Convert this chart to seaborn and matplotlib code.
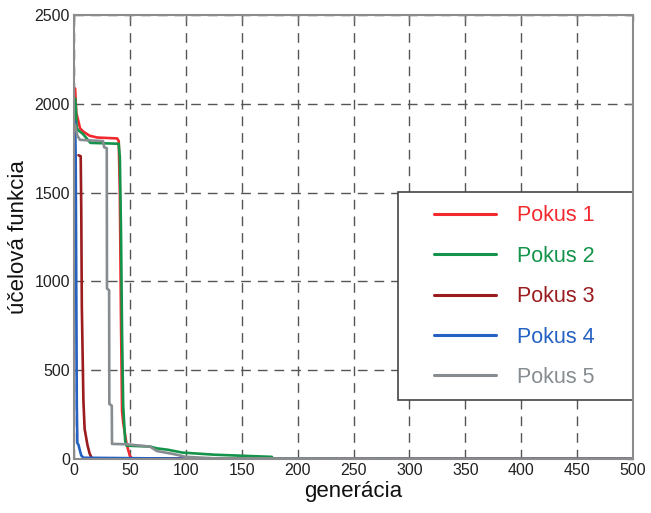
import pandas as pd
import seaborn as sns
import matplotlib.pyplot as plt
from matplotlib.patches import Rectangle

# Values
series_names = ['Pokus 1', 'Pokus 2', 'Pokus 3', 'Pokus 4', 'Pokus 5']
colors = ['#f22a2f', '#14934a', '#9a1c1f', '#2461c2', '#868c90']

gen_1 = [0, 1, 2, 4, 5.4, 8.4, 14, 21, 38.6, 40, 41, 42, 43, 44, 47, 50, 52, 60, 500]
val_1 = [2090, 2085, 1950, 1900, 1862, 1843, 1820, 1810, 1805, 1790, 1500, 800, 270, 205, 85, 17, 2, 1, 0]

gen_2 = [1, 1.5, 2.4, 4, 8, 14.7, 40, 41, 42, 43, 44, 45.8, 47, 68, 74, 84, 97, 126, 177, 178, 500]
val_2 = [2030, 2000, 1865, 1850, 1830, 1780, 1775, 1700, 1300, 700, 300, 100, 75, 70, 60, 52, 36, 24, 12, 0, 0]

gen_3 = [4, 6, 6.5, 7, 8.4, 9.5, 12, 14, 16, 20, 500]
val_3 = [1710, 1705, 1400, 860, 330, 170, 80, 30, 5, 2, 0]

gen_4 = [0, 1, 1.5, 2, 2.5, 3, 4, 5.4, 6.5, 8.4, 100, 500]
val_4 = [1880, 1900, 1700, 1000, 300, 90, 80, 45, 20, 7, 2, 0]

gen_5 = [0, 1, 3, 5.4, 26, 27, 29.3, 29.5, 31.4, 31.6, 33.8, 34, 47, 68, 74, 89, 100, 126, 500]
val_5 = [1890, 1880, 1820, 1797, 1790, 1755, 1750, 960, 950, 310, 300, 85, 83, 70, 45, 28, 12, 4, 0]

frames = []
for name, g, v in zip(series_names,
                      [gen_1, gen_2, gen_3, gen_4, gen_5],
                      [val_1, val_2, val_3, val_4, val_5]):
    frames.append(pd.DataFrame({'generacia': g, 'hodnota': v, 'pokus': name}))
data = pd.concat(frames, ignore_index=True)

sns.set_style('white')
plt.rcParams['font.family'] = ['Liberation Sans', 'DejaVu Sans']

fig = plt.figure(figsize=(6.51, 5.13), dpi=100)
ax = fig.add_axes([74 / 651, 54 / 513, 559 / 651, 444 / 513])

sns.lineplot(data=data, x='generacia', y='hodnota', hue='pokus',
             palette=dict(zip(series_names, colors)), estimator=None,
             sort=False, linewidth=1.9, ax=ax)

ax.set_xlim(0, 500)
ax.set_ylim(0, 2500)
ax.set_xticks(range(0, 501, 50))
ax.set_yticks(range(0, 2501, 500))
ax.grid(True, color='#555555', linestyle=(0, (7, 5)), linewidth=1)
ax.set_axisbelow(True)
ax.tick_params(direction='in', top=True, right=True, length=4, width=1,
               color='#777777', labelsize=11.5, labelcolor='#222222', pad=3)
for s in ax.spines.values():
    s.set_color('#8c8c8c')
    s.set_linewidth(1.5)
    s.set_zorder(6)

ax.set_xlabel('generácia', fontsize=16, color='#111111', labelpad=2)
ax.set_ylabel('účelová funkcia', fontsize=16, color='#111111', labelpad=4)

# legend box
box = Rectangle((0.5796, 0.133), 0.4204, 0.468, transform=ax.transAxes,
                facecolor='white', edgecolor='#444444', linewidth=1.2,
                zorder=3, clip_on=False)
ax.add_patch(box)

sns.move_legend(ax, 'upper left', bbox_to_anchor=(0.644, 0.571), title=None,
                frameon=False, fontsize=15.5, handlelength=2.9,
                handletextpad=0.95, labelspacing=0.9, borderpad=0,
                borderaxespad=0, labelcolor='linecolor')
for line in ax.get_legend().get_lines():
    line.set_linewidth(2.2)

fig.savefig('out.png', dpi=100)
